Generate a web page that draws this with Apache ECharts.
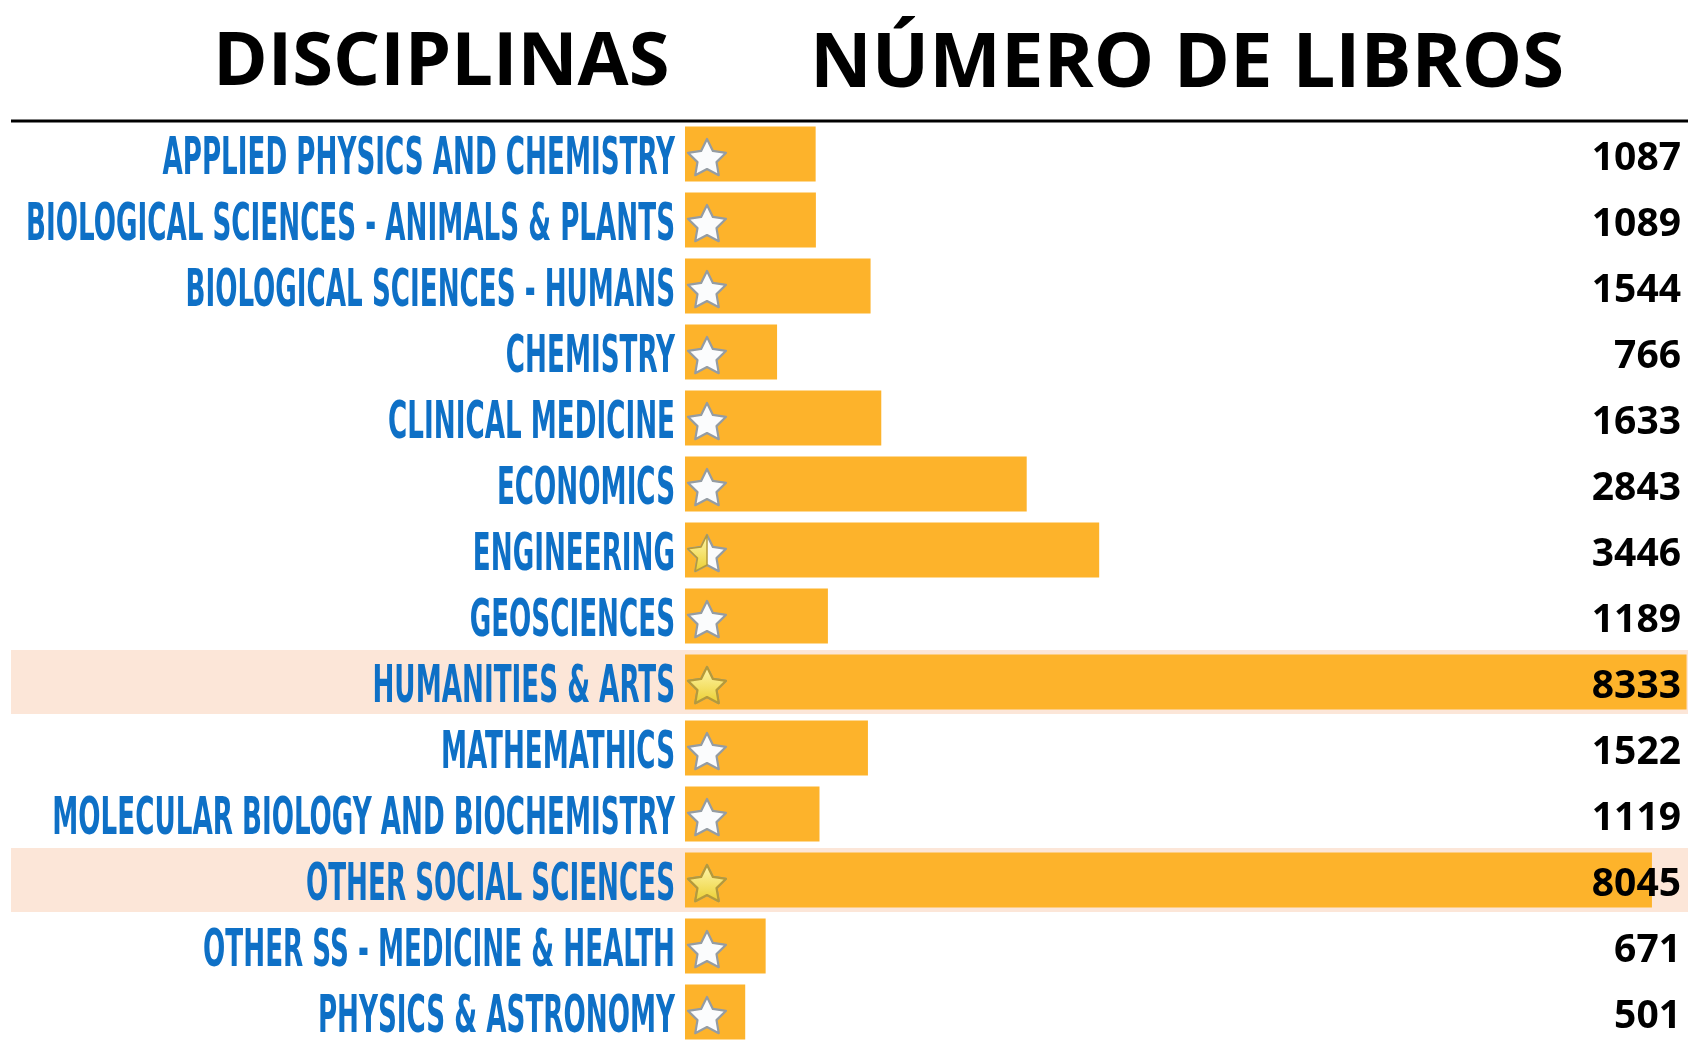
<!DOCTYPE html>
<html>
<head>
<meta charset="utf-8">
<style>
html,body{margin:0;padding:0;background:#fff;}
#chart{width:1688px;height:1041px;}
</style>
<script src="https://cdn.jsdelivr.net/npm/echarts@6/dist/echarts.min.js"></script>
</head>
<body>
<div id="chart"></div>
<script>
// ---- data ----
const titleLeft = 'DISCIPLINAS';
const titleRight = 'NÚMERO DE LIBROS';
const categories = [
  'APPLIED PHYSICS AND CHEMISTRY',
  'BIOLOGICAL SCIENCES - ANIMALS & PLANTS',
  'BIOLOGICAL SCIENCES - HUMANS',
  'CHEMISTRY',
  'CLINICAL MEDICINE',
  'ECONOMICS',
  'ENGINEERING',
  'GEOSCIENCES',
  'HUMANITIES & ARTS',
  'MATHEMATHICS',
  'MOLECULAR BIOLOGY AND BIOCHEMISTRY',
  'OTHER SOCIAL SCIENCES',
  'OTHER SS - MEDICINE & HEALTH',
  'PHYSICS & ASTRONOMY'
];
const books = [1087, 1089, 1544, 766, 1633, 2843, 3446, 1189, 8333, 1522, 1119, 8045, 671, 501];
// star fill: 0 = empty (white), 0.5 = half, 1 = full (gold)
const starRating = [0, 0, 0, 0, 0, 0, 0.5, 0, 1, 0, 0, 1, 0, 0];
const highlighted = ['HUMANITIES & ARTS', 'OTHER SOCIAL SCIENCES'];

// ---- chart ----
const chart = echarts.init(document.getElementById('chart'));

function starPoints(cx, cy, R, r) {
  const pts = [];
  for (let i = 0; i < 10; i++) {
    const a = -Math.PI / 2 + i * Math.PI / 5;
    const rad = i % 2 === 0 ? R : r;
    pts.push([cx + rad * Math.cos(a), cy + rad * Math.sin(a)]);
  }
  return pts;
}

const highlightData = categories.map(c => highlighted.indexOf(c) >= 0 ? 1 : '-');
const gold = () => new echarts.graphic.LinearGradient(0, 0, 0, 1, [
  { offset: 0, color: '#FFF7B0' }, { offset: 1, color: '#EBCF30' }]);

const option = {
  animation: false,
  backgroundColor: '#ffffff',
  title: [
    { text: titleLeft, left: 208, top: 22,
      textStyle: { fontFamily: 'Open Sans', fontWeight: 700, fontSize: 74, color: '#000' } },
    { text: titleRight, left: 805, top: 22,
      textStyle: { fontFamily: 'Open Sans', fontWeight: 700, fontSize: 76, color: '#000' } }
  ],
  graphic: [
    { type: 'line', shape: { x1: 11, y1: 121, x2: 1688, y2: 121 },
      style: { stroke: '#000', lineWidth: 3 }, z: 10 }
  ],
  grid: [
    { left: 685, right: 0, top: 121, height: 924, outerBoundsMode: 'none', containLabel: false },
    { left: 11, right: 0, top: 121, height: 924, outerBoundsMode: 'none', containLabel: false }
  ],
  xAxis: [
    { gridIndex: 0, type: 'value', min: 0, max: 8345, show: false },
    { gridIndex: 1, type: 'value', min: 0, max: 1, show: false }
  ],
  yAxis: [
    { gridIndex: 0, type: 'category', data: categories, inverse: true,
      axisLine: { show: false }, axisTick: { show: false }, splitLine: { show: false },
      axisLabel: { show: false } },
    { gridIndex: 1, type: 'category', data: categories, inverse: true, show: false }
  ],
  series: [
    { type: 'bar', xAxisIndex: 1, yAxisIndex: 1, data: highlightData, barCategoryGap: '3%',
      itemStyle: { color: '#FCE6D8' }, z: 0, silent: true },
    { type: 'bar', xAxisIndex: 0, yAxisIndex: 0, data: books, barCategoryGap: '16.7%',
      itemStyle: { color: '#FDB32B' }, z: 2 },
    // category labels (tall condensed lettering)
    { type: 'custom', xAxisIndex: 0, yAxisIndex: 0, z: 6, clip: false,
      data: categories.map((c, i) => [0, i]),
      renderItem: function (params, api) {
        const p = api.coord([0, api.value(1)]);
        return {
          type: 'text', x: p[0] - 10, y: p[1] + 6, scaleX: 0.56,
          style: { text: categories[params.dataIndex], align: 'right', verticalAlign: 'middle',
            fill: '#0E70C6',
            fontFamily: "'DejaVu Sans Condensed', 'DejaVu Sans', sans-serif", fontWeight: 700, fontSize: 52 }
        };
      }
    },
    // value labels, right-aligned at the right edge
    { type: 'custom', xAxisIndex: 0, yAxisIndex: 0, z: 20, clip: false,
      data: books.map((v, i) => [v, i]),
      renderItem: function (params, api) {
        const p = api.coord([0, api.value(1)]);
        const right = params.coordSys.x + params.coordSys.width - 7;
        return {
          type: 'text', x: right, y: p[1] + 5,
          style: { text: String(api.value(0)), align: 'right', verticalAlign: 'middle',
            fill: '#000', fontFamily: 'Open Sans', fontWeight: 700, fontSize: 39 }
        };
      }
    },
    // stars
    { type: 'custom', xAxisIndex: 0, yAxisIndex: 0, z: 5,
      data: categories.map((c, i) => [0, i, starRating[i]]),
      renderItem: function (params, api) {
        const p = api.coord([0, api.value(1)]);
        const cx = p[0] + 22, cy = p[1] + 5;
        const pts = starPoints(cx, cy, 20, 10);
        const rating = api.value(2);
        const children = [
          { type: 'polygon', shape: { points: pts },
            style: { fill: '#FBFCFD', stroke: '#949CA3', lineWidth: 2.2, lineJoin: 'round' } }
        ];
        if (rating >= 1) {
          children.push({ type: 'polygon', shape: { points: pts },
            style: { fill: gold(), stroke: '#B59A3A', lineWidth: 2.2, lineJoin: 'round' } });
        } else if (rating > 0) {
          const half = [pts[5], pts[6], pts[7], pts[8], pts[9], pts[0]];
          children.push({ type: 'polygon', shape: { points: half },
            style: { fill: gold(), stroke: '#B59A3A', lineWidth: 1.5, lineJoin: 'round' } });
        }
        return { type: 'group', children: children };
      }
    }
  ]
};
chart.setOption(option);
</script>
</body>
</html>
